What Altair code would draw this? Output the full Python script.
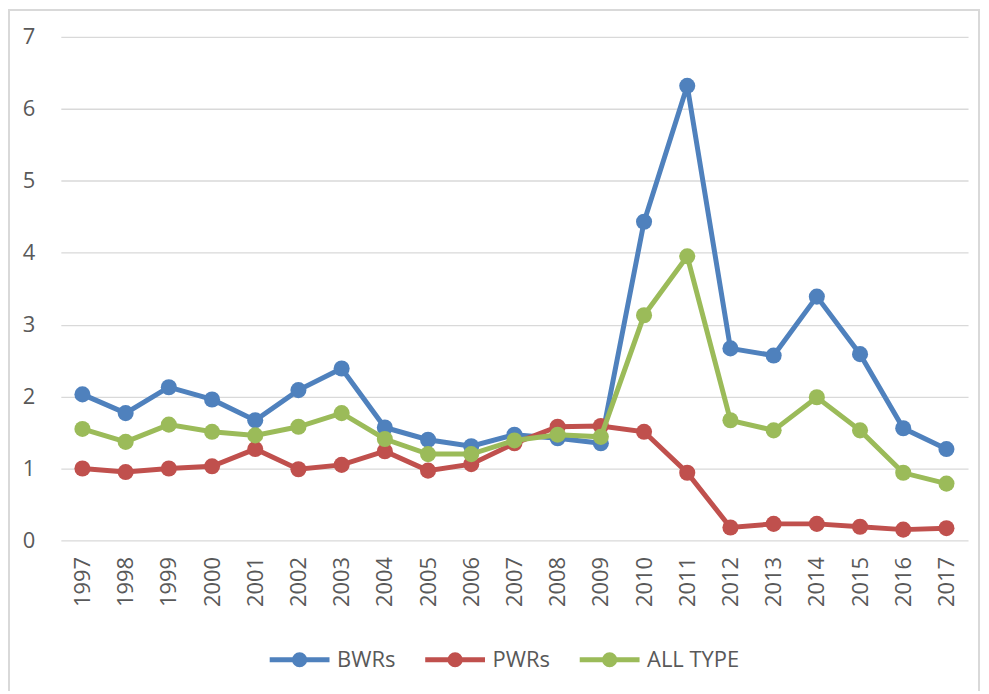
import altair as alt
import pandas as pd

years = [str(y) for y in range(1997, 2018)]
bwrs = [2.03, 1.77, 2.13, 1.96, 1.67, 2.09, 2.39, 1.57, 1.40, 1.31, 1.47,
        1.42, 1.35, 4.43, 6.32, 2.67, 2.57, 3.39, 2.59, 1.56, 1.27]
pwrs = [1.00, 0.95, 1.00, 1.03, 1.27, 0.99, 1.05, 1.24, 0.97, 1.06, 1.35,
        1.58, 1.59, 1.51, 0.94, 0.18, 0.23, 0.23, 0.19, 0.15, 0.17]
all_type = [1.55, 1.37, 1.61, 1.51, 1.46, 1.58, 1.77, 1.41, 1.20, 1.20, 1.39,
            1.47, 1.44, 3.13, 3.95, 1.67, 1.53, 1.99, 1.53, 0.94, 0.79]
series_names = ["BWRs", "PWRs", "ALL TYPE"]
series_colors = ["#4F81BD", "#C0504D", "#9BBB59"]

rows = []
for name, vals in zip(series_names, [bwrs, pwrs, all_type]):
    for y, v in zip(years, vals):
        rows.append({"year": y, "value": v, "series": name})
df = pd.DataFrame(rows)

FONT = "Open Sans"
GREY = "#595959"

x_enc = alt.X("year:O", sort=years,
              scale=alt.Scale(type="point", padding=0.5),
              axis=alt.Axis(title=None, labelAngle=-90, labelAlign="right",
                            labelBaseline="middle", labelPadding=16,
                            labelFontSize=22, labelColor=GREY, labelFont=FONT,
                            domain=False, ticks=False, grid=False))
y_enc = alt.Y("value:Q", scale=alt.Scale(domain=[0, 7], nice=False),
              axis=alt.Axis(title=None, values=[0, 1, 2, 3, 4, 5, 6, 7],
                            labelFontSize=22, labelColor=GREY, labelFont=FONT,
                            labelPadding=26, domain=False, ticks=False,
                            grid=True, gridColor="#d9d9d9", gridWidth=1.3))


def circ(r):
    return f"M{-r},0A{r},{r} 0 1,1 {r},0A{r},{r} 0 1,1 {-r},0Z"


legend_path = "M-1,0L1,0 " + " ".join(circ(r) for r in (0.05, 0.12, 0.17))

color_scale = alt.Scale(domain=series_names, range=series_colors)
legend = alt.Legend(
    title=None, orient="none", direction="horizontal",
    legendX=207, legendY=592,
    symbolType=legend_path, symbolSize=3600,
    symbolStrokeWidth=5, symbolOpacity=1,
    labelFontSize=22, labelColor=GREY, labelFont=FONT,
    labelOffset=5, columnPadding=19)
color_enc = alt.Color("series:N", scale=color_scale, sort=series_names,
                      legend=legend)

layers = []
for name in series_names:
    base = alt.Chart(df).transform_filter(alt.datum.series == name)
    line = base.mark_line(strokeWidth=5).encode(x=x_enc, y=y_enc, color=color_enc)
    pts = base.mark_point(filled=True, size=260, opacity=1, strokeWidth=0).encode(
        x=x_enc, y=y_enc, color=color_enc)
    layers += [line, pts]

frame = alt.Chart(pd.DataFrame({"a": [0]})).mark_rect(
    fill="transparent", stroke="#d9d9d9", strokeWidth=2).encode(
    x=alt.value(-52), x2=alt.value(921), y=alt.value(-27), y2=alt.value(700))

chart = alt.layer(frame, *layers).properties(
    width=910, height=505,
    autosize=alt.AutoSizeParams(type="none"),
    padding={"left": 53, "top": 28, "right": 13, "bottom": 150},
).configure(background="white").configure_view(stroke="transparent", strokeWidth=0)

chart.save("out.html", embed_options={"renderer": "svg", "actions": False})
